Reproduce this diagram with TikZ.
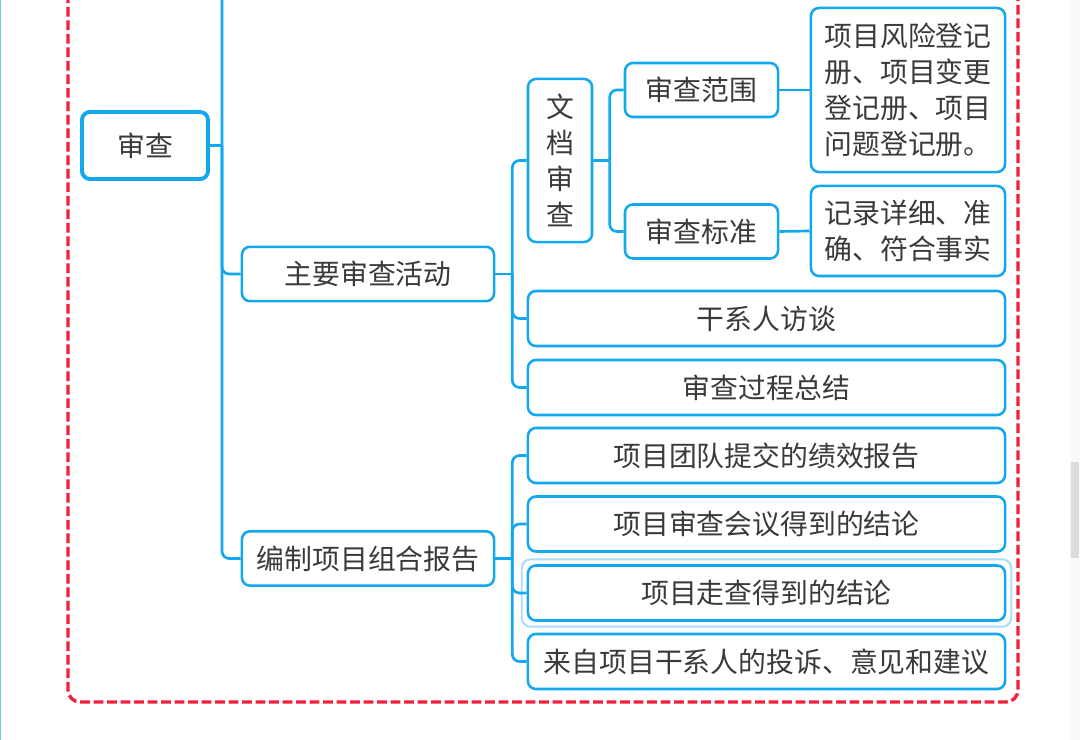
\documentclass[tikz,border=0pt]{standalone}
\usepackage{fontspec}
\newfontfamily\cjk{Noto Sans CJK SC}
\usetikzlibrary{positioning,fit}
\definecolor{mapblue}{HTML}{12A8EE}
\definecolor{hlblue}{HTML}{A8DDF8}
\definecolor{dashred}{HTML}{F0203A}
\definecolor{txtgray}{HTML}{3A3A3A}
\begin{document}
\begin{tikzpicture}[x=0.025cm,y=-0.025cm,font=\cjk\fontsize{19.8}{25.6}\selectfont,
	b/.style={draw=mapblue,line width=1.8pt,rounded corners=0.2cm,fill=white,text=txtgray,align=center,inner sep=0pt},
	wide/.style={b,minimum width=11.925cm,minimum height=1.375cm},
	mid/.style={b,minimum width=6.3cm,minimum height=1.36cm},
	link/.style={draw=mapblue,line width=1.9pt,rounded corners=0.18cm}]
	\useasboundingbox (0,0) rectangle (1080,740);
	\clip (0,0) rectangle (1080,740);
	% screen edges
	\fill[white] (0,0) rectangle (1080,740);
	\fill[mapblue!60] (0,0) rectangle (1.2,740);
	\fill[gray!5] (1070,0) rectangle (1080,740);
	\fill[gray!28] (1071,462) rectangle (1079,558);
	% frame
	\draw[dashred,line width=2.4pt,dash pattern=on 6.8pt off 2.8pt,rounded corners=0.3cm]
		(68,-20) -- (68,702) -- (1018,702) -- (1018,-20);
	% left column
	\node[b,line width=2.8pt,minimum width=3.15cm,minimum height=1.675cm] (sc) at (145,145.5) {审查};
	\node[mid] (zy) at (368,274) {主要审查活动};
	\node[mid] (bz) at (368,558.5) {编制项目组合报告};
	% document review
	\node[b,minimum width=1.6cm,minimum height=4.075cm] (wd) at (560,160.5) {文\\档\\审\\查};
	\node[b,minimum width=3.825cm,minimum height=1.35cm] (fw) at (701.5,90) {审查范围};
	\node[b,minimum width=3.825cm,minimum height=1.35cm] (bzn) at (701.5,231.5) {审查标准};
	\node[b,minimum width=4.85cm,minimum height=4.1cm,align=left] (rk) at (908,90)
		{项目风险登记\\册、项目变更\\登记册、项目\\问题登记册。};
	\node[b,minimum width=4.85cm,minimum height=2.25cm,align=left] (jl) at (908,231)
		{记录详细、准\\确、符合事实};
	\node[wide] (r1) at (766.5,318.5) {干系人访谈};
	\node[wide] (r2) at (766.5,387.5) {审查过程总结};
	% report inputs
	\node[wide] (p1) at (766.5,455.5) {项目团队提交的绩效报告};
	\node[wide] (p2) at (766.5,524) {项目审查会议得到的结论};
	\node[wide] (p3) at (766.5,593) {项目走查得到的结论};
	\node[wide] (p4) at (766.5,661.5) {来自项目干系人的投诉、意见和建议};
	\node[draw=hlblue,line width=1.4pt,rounded corners=0.22cm,fit=(p3),inner sep=3.5pt] (p3hl) {};
	% connectors
	\coordinate (top) at (222,0);
	\coordinate[right=0.425cm of zy.east] (zyj);
	\coordinate[right=0.41cm of wd.east] (wdj);
	\coordinate[right=0.425cm of bz.east] (bzj);
	\draw[link] (top) |- (bz.west);
	\draw[link] (sc.east) -- (sc.east -| top);
	\draw[link] (sc.east -| top) |- (zy.west);
	\draw[link] (zy.east) -- (zyj);
	\foreach \n in {wd,r1,r2} \draw[link] (zyj) |- (\n.west);
	\draw[link] (wd.east) -- (wdj);
	\foreach \n in {fw,bzn} \draw[link] (wdj) |- (\n.west);
	\draw[link] (fw.east) -- (rk.west);
	\draw[link] (bzn.east) -- (jl.west);
	\draw[link] (bz.east) -- (bzj);
	\foreach \n in {p1,p2,p3,p4} \draw[link] (bzj) |- (\n.west);
\end{tikzpicture}
\end{document}
